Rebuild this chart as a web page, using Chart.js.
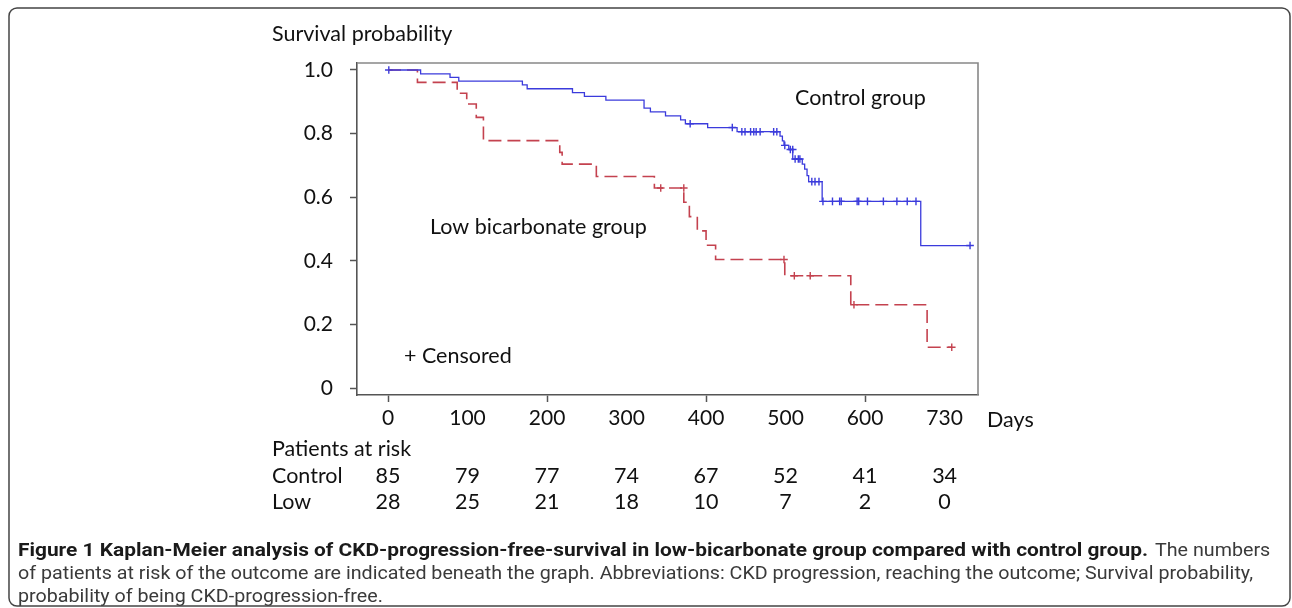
<!DOCTYPE html>
<html>
<head>
<meta charset="utf-8">
<script src="https://cdn.jsdelivr.net/npm/chart.js@4.4.1/dist/chart.umd.min.js"></script>
<style>
  html, body { margin: 0; padding: 0; background: #fff; }
  #wrap { width: 1292px; height: 608px; position: relative; }
</style>
</head>
<body>
<div id="wrap"><canvas id="km"></canvas></div>
<script>
// Kaplan-Meier steps (days, survival)
const controlTimes = [0, 41, 78, 89, 169, 175, 232, 247, 274, 322, 330, 349, 368, 374, 402, 439, 493, 496, 498, 504, 509, 521, 524, 527, 529, 546, 670, 732];
const controlSurv  = [1.0, 0.988, 0.977, 0.965, 0.953, 0.941, 0.929, 0.917, 0.905, 0.880, 0.868, 0.856, 0.843, 0.831, 0.819, 0.806, 0.792, 0.777, 0.763, 0.750, 0.720, 0.704, 0.688, 0.668, 0.649, 0.587, 0.448, 0.448];
const controlCensorTimes = [1, 380, 433, 445, 449, 456, 460, 463, 468, 485, 489, 499, 506, 509, 512, 516, 518, 533, 537, 542, 547, 559, 568, 570, 590, 592, 603, 623, 640, 653, 664, 732];
const controlCensorSurv  = [1.0, 0.831, 0.819, 0.806, 0.806, 0.806, 0.806, 0.806, 0.806, 0.806, 0.806, 0.763, 0.750, 0.750, 0.720, 0.720, 0.720, 0.649, 0.649, 0.649, 0.587, 0.587, 0.587, 0.587, 0.587, 0.587, 0.587, 0.587, 0.587, 0.587, 0.587, 0.448];

const lowTimes = [0, 37, 87, 99, 111, 120, 216, 219, 262, 335, 372, 379, 389, 400, 412, 499, 582, 678, 709];
const lowSurv  = [1.0, 0.961, 0.927, 0.893, 0.851, 0.778, 0.741, 0.704, 0.665, 0.629, 0.584, 0.539, 0.494, 0.449, 0.404, 0.353, 0.262, 0.128, 0.128];
const lowCensorTimes = [343, 372, 498, 511, 531, 586, 709];
const lowCensorSurv  = [0.629, 0.629, 0.404, 0.353, 0.353, 0.262, 0.128];

// axes
const xTickValues = [0, 100, 200, 300, 400, 500, 600, 700];
const xTickLabels = ['0', '100', '200', '300', '400', '500', '600', '730'];
const yTickValues = [0, 0.2, 0.4, 0.6, 0.8, 1.0];
const yTickLabels = ['0', '0.2', '0.4', '0.6', '0.8', '1.0'];

// patients at risk (one per x tick)
const riskControl = [85, 79, 77, 74, 67, 52, 41, 34];
const riskLow     = [28, 25, 21, 18, 10, 7, 2, 0];

const BLUE = '#3b3bdc';
const RED = '#c4424f';
const FONT = 'Lato, "Open Sans", sans-serif';
const CAP = 'Roboto, "Liberation Sans", sans-serif';

const pts = (xs, ys) => xs.map((t, i) => ({x: t, y: ys[i]}));

// draw text with a horizontal scale factor
function scaledText(ctx, str, x0, y0, k){
  ctx.save();
  ctx.translate(x0, y0);
  ctx.scale(k, 1);
  ctx.fillText(str, 0, 0);
  ctx.restore();
}

const kmText = {
  id: 'kmText',
  beforeDraw(chart){
    const ctx = chart.ctx;
    ctx.save();
    ctx.fillStyle = '#fff';
    ctx.fillRect(0, 0, chart.width, chart.height);
    ctx.restore();
  },
  afterDraw(chart){
    const {ctx, chartArea: a, scales: {x}} = chart;
    ctx.save();
    // top / right frame
    ctx.strokeStyle = '#888';
    ctx.lineWidth = 1.6;
    ctx.beginPath();
    ctx.moveTo(a.left, a.top); ctx.lineTo(a.right, a.top); ctx.lineTo(a.right, a.bottom);
    ctx.stroke();

    ctx.fillStyle = '#111';
    ctx.font = '21.5px ' + FONT;
    ctx.textBaseline = 'middle';
    ctx.textAlign = 'left';
    ctx.fillText('Survival probability', 272, 34);
    ctx.fillText('Control group', 795, 98);
    ctx.fillText('Low bicarbonate group', 430, 227);
    ctx.fillText('+ Censored', 404, 356);
    ctx.fillText('Days', 987, 420);
    ctx.fillText('Patients at risk', 272, 449);
    ctx.fillText('Control', 272, 476);
    ctx.fillText('Low', 272, 502);
    ctx.textAlign = 'center';
    xTickValues.forEach((v, i) => {
      const px = x.getPixelForValue(v);
      ctx.fillText(String(riskControl[i]), px, 476);
      ctx.fillText(String(riskLow[i]), px, 502);
    });

    // caption
    ctx.textAlign = 'left';
    const bold = 'Figure 1 Kaplan-Meier analysis of CKD-progression-free-survival in low-bicarbonate group compared with control group.';
    const l2 = 'of patients at risk of the outcome are indicated beneath the graph. Abbreviations: CKD progression, reaching the outcome; Survival probability,';
    ctx.font = 'bold 19px ' + CAP;
    ctx.fillStyle = '#1a1a1a';
    scaledText(ctx, bold, 18, 551, 1130 / ctx.measureText(bold).width);
    ctx.font = '19px ' + CAP;
    ctx.fillStyle = '#3a3a3a';
    const k = 1235 / ctx.measureText(l2).width;
    scaledText(ctx, 'The numbers', 1155, 551, k);
    scaledText(ctx, l2, 18, 574, k);
    scaledText(ctx, 'probability of being CKD-progression-free.', 18, 597, k);

    // outer rounded box
    ctx.strokeStyle = '#444';
    ctx.lineWidth = 1.5;
    ctx.beginPath();
    ctx.roundRect(9, 8, 1281, 598, 8);
    ctx.stroke();
    ctx.restore();
  }
};

new Chart(document.getElementById('km'), {
  type: 'scatter',
  data: {
    datasets: [
      {type: 'line', label: 'Control', data: pts(controlTimes, controlSurv), stepped: 'before',
       borderColor: BLUE, borderWidth: 1.3, pointRadius: 0, fill: false},
      {type: 'line', label: 'Low', data: pts(lowTimes, lowSurv), stepped: 'before',
       borderColor: RED, borderWidth: 1.6, borderDash: [13, 6], pointRadius: 0, fill: false},
      {label: 'Control censored', data: pts(controlCensorTimes, controlCensorSurv), showLine: false,
       pointStyle: 'cross', pointRadius: 3.8, borderColor: BLUE, borderWidth: 1.4},
      {label: 'Low censored', data: pts(lowCensorTimes, lowCensorSurv), showLine: false,
       pointStyle: 'cross', pointRadius: 3.8, borderColor: RED, borderWidth: 1.4}
    ]
  },
  options: {
    responsive: true,
    maintainAspectRatio: false,
    animation: false,
    layout: {padding: {left: 0, top: 63, right: 314, bottom: 168}},
    plugins: {legend: {display: false}, tooltip: {enabled: false}},
    scales: {
      x: {
        type: 'linear', min: -39, max: 742,
        afterFit: s => { s.height = 45; },
        afterBuildTicks: s => { s.ticks = xTickValues.map(v => ({value: v})); },
        ticks: {callback: (v, i) => xTickLabels[i], color: '#111', font: {family: FONT, size: 21}, padding: 4, maxRotation: 0, autoSkip: false},
        grid: {drawOnChartArea: false, drawTicks: true, tickLength: 7, tickWidth: 1.5,
               tickColor: c => (c.tick && c.tick.value % 200 === 0) ? '#555' : 'rgba(0,0,0,0)'},
        border: {display: true, color: '#555', width: 1.6}
      },
      y: {
        type: 'linear', min: -0.022, max: 1.022,
        afterFit: s => { s.width = 357; },
        afterBuildTicks: s => { s.ticks = yTickValues.map(v => ({value: v})); },
        ticks: {callback: (v, i) => yTickLabels[i], color: '#111', font: {family: FONT, size: 21}, padding: 17},
        grid: {drawOnChartArea: false, drawTicks: true, tickLength: 7, tickWidth: 1.5, tickColor: '#555'},
        border: {display: true, color: '#555', width: 1.6}
      }
    }
  },
  plugins: [kmText]
});
</script>
</body>
</html>
